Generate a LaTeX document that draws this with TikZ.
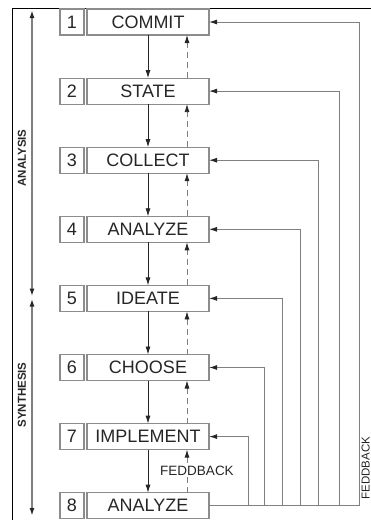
\documentclass[tikz,border=0pt]{standalone}
\usepackage{fontspec}
\setmainfont{Liberation Sans}
\usetikzlibrary{arrows.meta,positioning}
\definecolor{boxgray}{gray}{0.55}
\definecolor{linegray}{gray}{0.5}
\definecolor{inkgray}{gray}{0.15}
\tikzstyle{numbox} = [draw=boxgray,line width=1.2pt,rectangle,inner sep=0,outer sep=0,minimum width=24pt,minimum height=26pt,text=inkgray,font=\fontsize{18}{20}\selectfont]
\tikzstyle{stepbox} = [draw=boxgray,line width=1.2pt,rectangle,inner sep=0,outer sep=0,minimum width=122pt,minimum height=26pt,text=inkgray,font=\fontsize{18}{20}\selectfont]
\tikzstyle{down} = [draw=inkgray,line width=0.8pt,-{Latex[length=8pt,width=5pt]}]
\tikzstyle{up} = [draw=linegray,line width=0.8pt,dash pattern=on 6pt off 4pt,-{Latex[length=8pt,width=5pt,inkgray]}]
\tikzstyle{fb} = [draw=linegray,line width=1pt,-{Latex[length=8pt,width=5pt,inkgray]}]
\tikzstyle{phase} = [draw=linegray,line width=1.6pt,{Latex[length=8pt,width=5pt,inkgray]}-{Latex[length=8pt,width=5pt,inkgray]}]
\tikzstyle{side} = [rotate=90,text=inkgray,font=\bfseries\fontsize{11.5}{12}\selectfont]
\def \gap {43.1pt}
\def \dx {39pt}

\begin{document}
\begin{tikzpicture}[x=1pt,y=-1pt]
  \useasboundingbox (0,0) rectangle (371,520);
  % frame
  \draw[line width=1pt] (12,520) -- (12,8) -- (371,8);
  % steps
  \node[numbox] (n1) at (72,22) {1};
  \node[stepbox,right=3pt of n1] (s1) {COMMIT};
  \node[numbox,below=\gap of n1] (n2) {2};
  \node[stepbox,right=3pt of n2] (s2) {STATE};
  \node[numbox,below=\gap of n2] (n3) {3};
  \node[stepbox,right=3pt of n3] (s3) {COLLECT};
  \node[numbox,below=\gap of n3] (n4) {4};
  \node[stepbox,right=3pt of n4] (s4) {ANALYZE};
  \node[numbox,below=\gap of n4] (n5) {5};
  \node[stepbox,right=3pt of n5] (s5) {IDEATE};
  \node[numbox,below=\gap of n5] (n6) {6};
  \node[stepbox,right=3pt of n6] (s6) {CHOOSE};
  \node[numbox,below=\gap of n6] (n7) {7};
  \node[stepbox,right=3pt of n7] (s7) {IMPLEMENT};
  \node[numbox,below=\gap of n7] (n8) {8};
  \node[stepbox,right=3pt of n8] (s8) {ANALYZE};
  % forward
  \draw[down] (s1.south) -- (s2.north);
  \draw[down] (s2.south) -- (s3.north);
  \draw[down] (s3.south) -- (s4.north);
  \draw[down] (s4.south) -- (s5.north);
  \draw[down] (s5.south) -- (s6.north);
  \draw[down] (s6.south) -- (s7.north);
  \draw[down] (s7.south) -- (s8.north);
  % backward
  \draw[up] ([xshift=\dx]s2.north) -- ([xshift=\dx]s1.south);
  \draw[up] ([xshift=\dx]s3.north) -- ([xshift=\dx]s2.south);
  \draw[up] ([xshift=\dx]s4.north) -- ([xshift=\dx]s3.south);
  \draw[up] ([xshift=\dx]s5.north) -- ([xshift=\dx]s4.south);
  \draw[up] ([xshift=\dx]s6.north) -- ([xshift=\dx]s5.south);
  \draw[up] ([xshift=\dx]s7.north) -- ([xshift=\dx]s6.south);
  \draw[up] ([xshift=\dx]s8.north) -- ([xshift=\dx]s7.south)
    node[midway,fill=white,inner sep=1pt,xshift=10pt,text=inkgray,font=\fontsize{13.5}{14}\selectfont]{FEDDBACK};
  % feedback loops
  \draw[fb] (s8.east) -| ([xshift=39pt]s7.east) -- (s7.east);
  \draw[fb] (s8.east) -| ([xshift=55pt]s6.east) -- (s6.east);
  \draw[fb] (s8.east) -| ([xshift=73pt]s5.east) -- (s5.east);
  \draw[fb] (s8.east) -| ([xshift=91pt]s4.east) -- (s4.east);
  \draw[fb] (s8.east) -| ([xshift=109pt]s3.east) -- (s3.east);
  \draw[fb] (s8.east) -| ([xshift=130pt]s2.east) -- (s2.east);
  \draw[fb] (s8.east) -| ([xshift=150pt]s1.east) -- (s1.east);
  \node[rotate=90,anchor=base,inner sep=0,text=inkgray,font=\fontsize{11.5}{12}\selectfont] (fbtext) at (369.5,468) {FEDDBACK};
  % phases
  \coordinate (antop) at (32,10);
  \coordinate (anbot) at (32,296.5);
  \coordinate (sytop) at (32,298.5);
  \coordinate (sybot) at (32,516);
  \draw[phase] (anbot) -- (antop);
  \draw[phase] (sytop) -- (sybot);
  \node[side] (analysis) at (22,158) {ANALYSIS};
  \node[side] (synthesis) at (22,395) {SYNTHESIS};
\end{tikzpicture}
\end{document}
